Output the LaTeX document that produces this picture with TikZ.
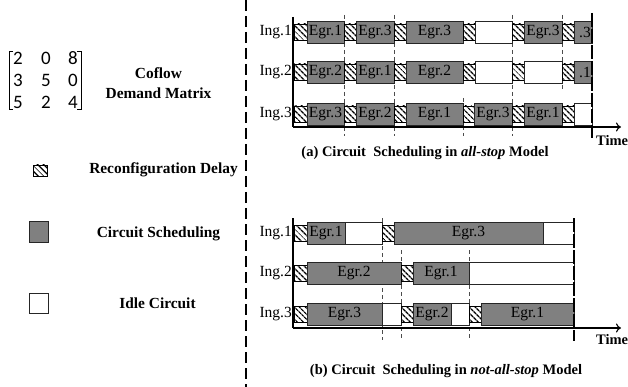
\documentclass[tikz,border=0pt]{standalone}
\usepackage{fontspec}
\setmainfont{Liberation Serif}
\newfontfamily\digitfont{Carlito}
\usetikzlibrary{patterns.meta,arrows.meta}
\definecolor{cgray}{HTML}{808080}
\definecolor{edge}{HTML}{262626}
\begin{document}
\begin{tikzpicture}[x=1pt,y=-1pt,
  gbox/.style={draw=edge,fill=cgray,line width=0.9pt},
  wbox/.style={draw=edge,fill=white,line width=0.9pt},
  hbox/.style={draw=black,line width=0.4pt,pattern={Lines[angle=-45,distance=4pt,line width=1.4pt]}},
  lbl/.style={font=\fontsize{15.5}{16}\selectfont,inner sep=0pt},
  bold/.style={font=\bfseries\fontsize{14.5}{16}\selectfont,inner sep=0pt},
  legend/.style={font=\bfseries\fontsize{15.4}{17}\selectfont,inner sep=0pt},
  digit/.style={font=\digitfont\fontsize{19}{19}\selectfont,inner sep=0pt},
  grid/.style={draw=black!70,line width=0.6pt,dash pattern=on 4pt off 3pt},
  endline/.style={draw=black,line width=1.6pt,dash pattern=on 14pt off 2pt},
  axis/.style={draw=black,line width=1.1pt},
  divider/.style={draw=black,line width=1.2pt,dash pattern=on 11pt off 5pt}]
\newcommand\G[4]{\draw[gbox] (#1,#3-11) rectangle (#2,#3+11); \node[lbl] (g#1-#3) at ({(#1+#2)/2},#3) {#4};}
\newcommand\Gr[4]{\draw[gbox] (#1,#3-11) rectangle (#2,#3+11); \node[lbl,anchor=east] (g#1-#3) at (#2-1,#3) {#4};}
\newcommand\W[3]{\draw[wbox] (#1,#3-11) rectangle (#2,#3+11);}
\newcommand\Hh[3]{\draw[hbox] (#1,#3-8) rectangle (#2,#3+8);}
\useasboundingbox (0,0) rectangle (628,387);
% divider
\draw[divider] (246,0) -- (246,387);
% matrix
\draw[line width=0.7pt] (13,51) -- (9,51) -- (9,109) -- (13,109);
\draw[line width=0.7pt] (77,51) -- (81,51) -- (81,109) -- (77,109);
\node[digit] (m11) at (18,58) {2}; \node[digit] (m12) at (46,58) {0}; \node[digit] (m13) at (73,58) {8};
\node[digit] (m21) at (18,80) {3}; \node[digit] (m22) at (46,80) {5}; \node[digit] (m23) at (73,80) {0};
\node[digit] (m31) at (18,102) {5}; \node[digit] (m32) at (46,102) {2}; \node[digit] (m33) at (73,102) {4};
\node[legend,align=center] (cdm) at (158.5,83) {Coflow\\[3pt]Demand Matrix};
% legend
\draw[hbox] (33,165) rectangle (47,176);
\node[legend] (lrd) at (163.5,170) {Reconfiguration Delay};
\draw[gbox] (29,221) rectangle (48,242);
\node[legend] (lcs) at (158.5,234) {Circuit Scheduling};
\draw[wbox] (29,293) rectangle (48,313);
\node[legend] (lic) at (157.5,303) {Idle Circuit};
% ===== chart (a)
\draw[grid] (344,15) -- (344,136);
\draw[grid] (394,15) -- (394,136);
\draw[grid] (463,98) -- (463,136);
\draw[grid] (512,15) -- (512,136);
\draw[grid] (562,15) -- (562,90);
% row 1
\Hh{294}{307}{32} \G{307}{344}{32}{Egr.1} \Hh{344}{356}{32} \G{356}{394}{32}{Egr.3}
\Hh{394}{406}{32} \G{406}{463}{32}{Egr.3} \Hh{463}{475}{32} \W{475}{512}{32}
\Hh{512}{524}{32} \G{524}{562}{32}{Egr.3} \Hh{562}{574}{32} \Gr{574}{592}{32}{.3}
% row 2
\Hh{294}{307}{72} \G{307}{344}{72}{Egr.2} \Hh{344}{356}{72} \G{356}{394}{72}{Egr.1}
\Hh{394}{406}{72} \G{406}{463}{72}{Egr.2} \Hh{463}{475}{72} \W{475}{512}{72}
\Hh{512}{524}{72} \W{524}{562}{72} \Hh{562}{574}{72} \Gr{574}{592}{72}{.1}
% row 3
\Hh{294}{307}{114} \G{307}{344}{114}{Egr.3} \Hh{344}{356}{114} \G{356}{394}{114}{Egr.2}
\Hh{394}{406}{114} \G{406}{463}{114}{Egr.1} \Hh{463}{474}{114} \G{474}{512}{114}{Egr.3}
\Hh{512}{524}{114} \G{524}{562}{114}{Egr.1} \Hh{562}{574}{114} \W{574}{592}{114}
\node[lbl,anchor=east] (ia1) at (292,32) {Ing.1};
\node[lbl,anchor=east] (ia2) at (292,72) {Ing.2};
\node[lbl,anchor=east] (ia3) at (292,114) {Ing.3};
\draw[endline] (592,13) -- (592,138);
\coordinate (oa) at (293,127);
\coordinate (ya) at (293,17);
\coordinate (xa) at (621,127);
\draw[axis] (ya) -- (oa);
\draw[axis,-{To[length=5pt,width=9pt]}] (oa) -- (xa);
\node[bold,anchor=west] (ta) at (596,141) {Time};
\node[bold] (capa) at (425,153) {(a) Circuit\ \ Scheduling in \textit{all-stop} Model};
% ===== chart (b)
\draw[grid] (382,218) -- (382,340);
\draw[grid] (401,250) -- (401,340);
\draw[grid] (469,250) -- (469,340);
% row 1
\Hh{294}{307}{233} \G{307}{345}{233}{Egr.1} \W{345}{382}{233}
\Hh{382}{394}{233} \G{394}{543}{233}{Egr.3} \W{543}{574}{233}
% row 2
\Hh{294}{307}{273} \G{307}{401}{273}{Egr.2} \Hh{401}{413}{273}
\G{413}{469}{273}{Egr.1} \W{469}{574}{273}
% row 3
\Hh{294}{307}{314} \G{307}{382}{314}{Egr.3} \W{382}{401}{314}
\Hh{401}{413}{314} \G{413}{451}{314}{Egr.2} \W{451}{469}{314}
\Hh{469}{481}{314} \G{481}{574}{314}{Egr.1}
\node[lbl,anchor=east] (ib1) at (292,233) {Ing.1};
\node[lbl,anchor=east] (ib2) at (292,273) {Ing.2};
\node[lbl,anchor=east] (ib3) at (292,314) {Ing.3};
\draw[endline] (574,218) -- (574,341);
\coordinate (ob) at (293,328);
\coordinate (yb) at (293,218);
\coordinate (xb) at (621,328);
\draw[axis] (yb) -- (ob);
\draw[axis,-{To[length=5pt,width=9pt]}] (ob) -- (xb);
\node[bold,anchor=west] (tb) at (596,340) {Time};
\node[bold] (capb) at (446,371) {(b) Circuit\ \ Scheduling in \textit{not-all-stop} Model};
\end{tikzpicture}
\end{document}
